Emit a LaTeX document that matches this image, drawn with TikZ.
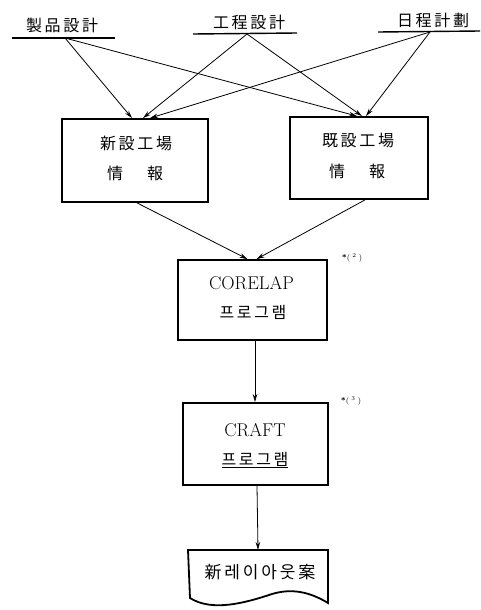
\documentclass[tikz,border=0pt]{standalone}
\usepackage{fontspec}
\newfontfamily\jp{Noto Sans CJK JP}
\newfontfamily\kr{Noto Sans CJK KR}
\usetikzlibrary{arrows.meta,calc}
\begin{document}
\begin{tikzpicture}[x=1pt,y=-1pt,
  boxstyle/.style={draw,line width=1.8pt,inner sep=0pt,align=center},
  conn/.style={line width=0.8pt,-{Stealth[length=8pt,width=4.5pt]}},
  ulabel/.style={font=\jp\fontsize{16}{18}\selectfont,inner sep=0pt},
  uline/.style={line width=1.4pt},
  note/.style={font=\fontsize{8}{9}\selectfont,inner sep=0pt}]
\useasboundingbox (0,0) rectangle (480,610);
% top labels
\node[ulabel] (t1) at (62,25) {製\,品\,設\,計};
\node[ulabel] (t2) at (249,22) {工\,程\,設\,計};
\node[ulabel] (t3) at (433,20) {日\,程\,計\,劃};
\coordinate (u1l) at (12,38); \coordinate (u1r) at (115,38);
\coordinate (u2l) at (193,34); \coordinate (u2r) at (297,33);
\coordinate (u3l) at (378,32); \coordinate (u3r) at (480,31);
\draw[uline] (u1l) -- (u1r);
\draw[uline] (u2l) -- (u2r);
\draw[uline] (u3l) -- (u3r);
\coordinate (s1) at (65,38);
\coordinate (s2) at (247,34);
\coordinate (s3) at (430,32);
% boxes
\node[boxstyle,minimum width=146pt,minimum height=83pt] (b1) at (135,160.5) {};
\node[ulabel] (b1a) at (136,143) {新\,設\,工\,場};
\node[ulabel] (b1b) at (135,173) {情\hspace{24pt}報};
\node[boxstyle,minimum width=138pt,minimum height=82pt] (b2) at (359,158) {};
\node[ulabel] (b2a) at (358,141) {既\,設\,工\,場};
\node[ulabel] (b2b) at (357,171) {情\hspace{24pt}報};
\node[boxstyle,minimum width=149pt,minimum height=80pt] (c1) at (252.5,300) {};
\node[inner sep=0pt,font=\fontsize{18.5}{20}\selectfont] (c1a) at (251.5,283) {CORELAP};
\node[inner sep=0pt,font=\kr\fontsize{16}{18}\selectfont] (c1b) at (253,312) {프\,로\,그\,램};
\node[note] (n1) at (352,258) {\textbf{*}(\;${}^{2}$\;)};
\node[boxstyle,minimum width=145pt,minimum height=82pt] (c2) at (255.5,444) {};
\node[inner sep=0pt,font=\fontsize{18.5}{20}\selectfont] (c2a) at (255,430) {CRAFT};
\node[inner sep=0pt,font=\kr\fontsize{16}{18}\selectfont] (c2b) at (255,460) {\underline{프\,로\,그\,램}};
\node[note] (n2) at (351,401) {\textbf{*}(\;${}^{3}$\;)};
% document
\coordinate (dtop) at (258,550);
\draw[line width=1.8pt] (188,550) -- (328,550) -- (328,603)
  .. controls (310,592) and (292,588) .. (272,594)
  .. controls (245,603) and (212,612) .. (190,598) -- cycle;
\node[inner sep=0pt,font=\kr\fontsize{17}{19}\selectfont] (d) at (260,572) {新\,레\,이\,아\,웃\,案};
% connectors
\draw[conn] (s1) -- ($(b1.north)+(-3,0)$);
\draw[conn] (s1) -- ($(b2.north)+(-2,0)$);
\draw[conn] (s2) -- ($(b1.north)+(8,0)$);
\draw[conn] (s2) -- ($(b2.north)+(3,0)$);
\draw[conn] (s3) -- ($(b1.north)+(15,0)$);
\draw[conn] (s3) -- ($(b2.north)+(7,0)$);
\draw[conn] ($(b1.south)+(2,0)$) -- ($(c1.north)+(-5,0)$);
\draw[conn] ($(b2.south)+(6,0)$) -- ($(c1.north)+(4,0)$);
\draw[conn] (c1.south -| 255,0) -- (c2.north -| 255,0);
\draw[conn] (c2.south -| 257,0) -- (dtop);
\end{tikzpicture}
\end{document}
